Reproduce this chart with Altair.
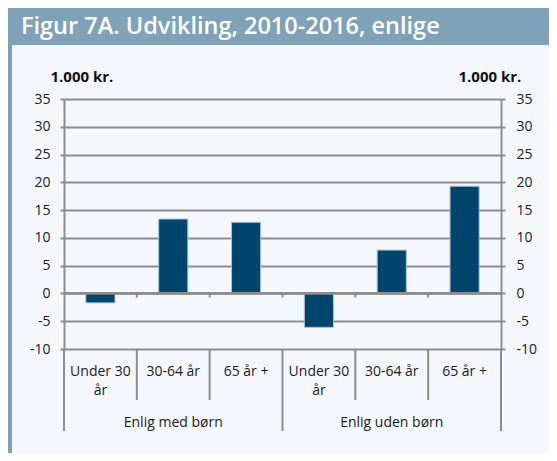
import altair as alt
import pandas as pd

# ---- data ----
categories = ["Under 30\når", "30-64 år", "65 år +"]
groups = ["Enlig med børn", "Enlig uden børn"]
values_med = [-1.7, 13.4, 12.8]
values_uden = [-6.1, 7.8, 19.3]
y_ticks = [-10, -5, 0, 5, 10, 15, 20, 25, 30, 35]
title_text = "Figur 7A. Udvikling, 2010-2016, enlige"
unit_label = "1.000 kr."

rows = []
for g, vals in zip(groups, [values_med, values_uden]):
    for c, v in zip(categories, vals):
        rows.append({"group": g, "cat": c, "key": g + "|" + c, "value": v})
df = pd.DataFrame(rows)
keys = list(df["key"])

GRID = "#8c8c8c"
BAR = "#00456d"
BANNER = "#7fa2b8"
PANEL = "#f4f8fc"
TXT = "#1a1a1a"
FONT = "Open Sans"

W, H = 437, 250

xscale = alt.Scale(domain=keys, paddingInner=0, paddingOuter=0)
yscale = alt.Scale(domain=[-10, 35], nice=False, zero=False)


def X(band=None):
    if band is None:
        return alt.X("key:N", scale=xscale, axis=None)
    return alt.X("key:N", scale=xscale, axis=None, bandPosition=band)


axis_common = dict(
    values=y_ticks,
    labelExpr="'' + datum.value",
    domainColor=GRID, domainWidth=2,
    tickColor=GRID, tickWidth=2, tickSize=4,
    labelFontSize=14, labelColor=TXT, labelFont=FONT,
    title=unit_label, titleAngle=0, titleAlign="left", titleBaseline="alphabetic",
    titleFontSize=15, titleFontWeight="bold", titleFont=FONT, titleColor="#111111",
    titleY=-18,
)

dummy = pd.DataFrame({"a": [0]})

banner = alt.Chart(dummy).mark_rect(color=BANNER).encode(
    x=alt.value(-56), x2=alt.value(W + 48), y=alt.value(-91), y2=alt.value(-54)
)
strip = alt.Chart(dummy).mark_rect(color=BANNER).encode(
    x=alt.value(-56), x2=alt.value(-52), y=alt.value(-54), y2=alt.value(H + 104)
)
title = alt.Chart(dummy).mark_text(
    align="left", baseline="alphabetic", fontSize=23.5, fontWeight=600,
    color="white", font=FONT
).encode(x=alt.value(-43), y=alt.value(-65), text=alt.value(title_text))

bars = alt.Chart(df).mark_bar(
    width=alt.RelativeBandSize(0.4), color=BAR, stroke="#a7c3d8", strokeWidth=1
).encode(
    x=X(),
    y=alt.Y("value:Q", scale=yscale, axis=None),
)

zero_line = alt.Chart(dummy).mark_rule(color=GRID, strokeWidth=2.8).encode(
    x=alt.value(0), x2=alt.value(W),
    y=alt.YDatum(0, scale=yscale, axis=None),
)

zero_ticks_df = pd.DataFrame({"key": keys[1:]})
zero_ticks = alt.Chart(zero_ticks_df).mark_rule(color=GRID, strokeWidth=2).encode(
    x=X(0), y=alt.YDatum(0, scale=yscale, axis=None), y2=alt.value(H * 35 / 45 + 4)
)

inner_df = pd.DataFrame({"key": [keys[1], keys[2], keys[4], keys[5]]})
inner_div = alt.Chart(inner_df).mark_rule(color=GRID, strokeWidth=2).encode(
    x=X(0), y=alt.value(H), y2=alt.value(H + 51)
)
group_df = pd.DataFrame({"key": [keys[0], keys[3]]})
group_div = alt.Chart(group_df).mark_rule(color=GRID, strokeWidth=2).encode(
    x=X(0), y=alt.value(H), y2=alt.value(H + 82)
)
end_df = pd.DataFrame({"key": [keys[-1]]})
end_div = alt.Chart(end_df).mark_rule(color=GRID, strokeWidth=2).encode(
    x=X(1), y=alt.value(H), y2=alt.value(H + 82)
)

cat_labels = alt.Chart(df).mark_text(
    fontSize=14, lineBreak="\n", lineHeight=19, baseline="alphabetic",
    align="center", font=FONT, color=TXT
).encode(x=X(), y=alt.value(H + 27), text="cat:N")

grp_df = pd.DataFrame({"key": [keys[1], keys[4]], "label": groups})
grp_labels = alt.Chart(grp_df).mark_text(
    fontSize=14, baseline="alphabetic", align="center", font=FONT, color=TXT
).encode(x=X(), y=alt.value(H + 78), text="label:N")

left = alt.Chart(df).mark_tick(opacity=0).encode(
    x=X(),
    y=alt.Y("value:Q", scale=yscale,
            axis=alt.Axis(orient="left", grid=True, gridColor=GRID, gridWidth=2,
                          labelPadding=10, titleX=-14, **axis_common)),
)

right = alt.Chart(df).mark_tick(opacity=0).encode(
    x=X(),
    y=alt.Y("value:Q", scale=yscale,
            axis=alt.Axis(orient="right", grid=False, labelPadding=11,
                          titleX=-43, **axis_common)),
)

chart = alt.layer(
    left, right, banner, strip, title, bars, zero_line, zero_ticks,
    inner_div, group_div, end_div, cat_labels, grp_labels
).resolve_axis(y="independent").properties(
    width=W, height=H,
    autosize=alt.AutoSizeParams(type="none"),
    padding={"left": 56, "top": 91, "right": 48, "bottom": 104},
    background=PANEL,
).configure_view(stroke=None)

chart.save("out.html", embed_options={"renderer": "svg", "actions": False})
